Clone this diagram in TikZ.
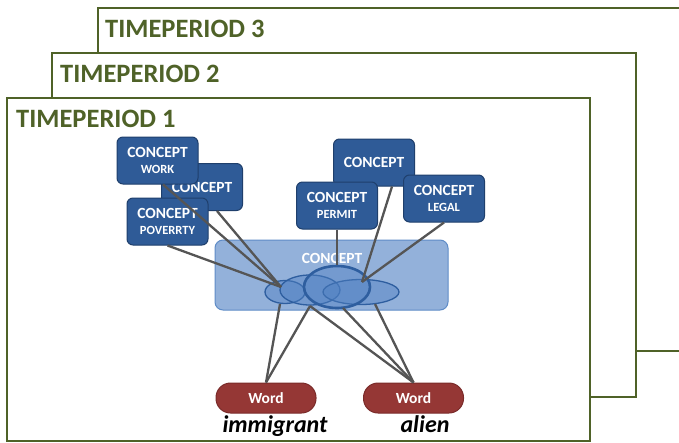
\documentclass[tikz,border=0pt]{standalone}
\usepackage{fontspec}
\setmainfont{Carlito}
\usetikzlibrary{shapes.geometric}

\definecolor{frameolive}{HTML}{4F6228}
\definecolor{conceptfill}{HTML}{2F5B97}
\definecolor{conceptedge}{HTML}{1F3F6C}
\definecolor{groupfill}{HTML}{93B1DA}
\definecolor{groupedge}{HTML}{5F8CC7}
\definecolor{sensefill}{HTML}{4F80C2}
\definecolor{senseedge}{HTML}{2E5E9F}
\definecolor{wordfill}{HTML}{953735}
\definecolor{wordedge}{HTML}{7A2B2A}
\definecolor{linkgray}{HTML}{555555}

\newcommand{\sublabel}[1]{{\fontsize{12.5}{13}\selectfont #1}}

\begin{document}
\begin{tikzpicture}[x=1pt,y=-1pt,
  frame/.style={draw=frameolive,line width=2.5pt,fill=white},
  frametitle/.style={anchor=base west,inner sep=0,text=frameolive,
    font=\bfseries\fontsize{26.5}{28}\selectfont},
  conceptbox/.style={rectangle,rounded corners=6pt,fill=conceptfill,
    draw=conceptedge,line width=1pt,minimum width=81pt,minimum height=47pt,
    inner sep=0,text=white,align=center,
    font=\bfseries\fontsize{15.5}{17}\selectfont},
  groupbox/.style={rectangle,rounded corners=8pt,fill=groupfill,
    draw=groupedge,line width=1pt},
  sense/.style={ellipse,inner sep=0,fill=sensefill,fill opacity=0.45,
    draw=senseedge,draw opacity=1,line width=1.3pt},
  wordbox/.style={rectangle,rounded corners=14.5pt,fill=wordfill,
    draw=wordedge,line width=1pt,minimum width=100pt,minimum height=30pt,
    inner sep=0,text=white,font=\bfseries\fontsize{15.5}{17}\selectfont},
  wordlabel/.style={anchor=base,inner sep=0,
    font=\bfseries\itshape\fontsize{24}{26}\selectfont},
  link/.style={draw=linkgray,line width=2.3pt}]

\clip (0,0) rectangle (679,442);
\useasboundingbox (0,0) rectangle (679,442);

% stacked time-period frames, back to front
\draw[frame] (98,8) rectangle (700,351);
\node[frametitle] (tp3) at (105,37) {TIMEPERIOD 3};
\draw[frame] (52,53) rectangle (636,397);
\node[frametitle] (tp2) at (60,82) {TIMEPERIOD 2};
\draw[frame] (7,98) rectangle (590,441);
\node[frametitle] (tp1) at (16,127) {TIMEPERIOD 1};

% concept boxes
\node[conceptbox] (mid)    at (202,187)   {CONCEPT};
\node[conceptbox] (work)   at (157.5,160.5) {CONCEPT\\[-1pt]\sublabel{WORK}};
\node[conceptbox] (pov)    at (167.5,221.5) {CONCEPT\\[-1pt]\sublabel{POVERRTY}};
\node[conceptbox] (conc)   at (374,162.5) {CONCEPT};
\node[conceptbox] (permit) at (337,205.5) {CONCEPT\\[-1pt]\sublabel{PERMIT}};
\node[conceptbox] (legal)  at (444,198.5) {CONCEPT\\[-1pt]\sublabel{LEGAL}};

% central concept with its overlapping senses
\draw[groupbox] (215,240) rectangle (448,310);
\node[text=white,font=\bfseries\fontsize{15.5}{17}\selectfont] (group) at (332,258) {CONCEPT};
\node[sense,minimum width=40pt,minimum height=23pt] (e1) at (285,292) {};
\node[sense,minimum width=60pt,minimum height=30pt] (e2) at (310,290) {};
\node[sense,minimum width=76pt,minimum height=25pt] (e4) at (361,292) {};
\node[sense,minimum width=66pt,minimum height=42pt,line width=2.6pt] (e3) at (337,287) {};

% word nodes
\node[wordbox] (word1) at (266,398) {Word};
\node[wordbox] (word2) at (413.5,398) {Word};
\node[wordlabel] (lab1) at (275,432) {immigrant};
\node[wordlabel] (lab2) at (425,432) {alien};

% meeting points on the senses
\coordinate (hubL) at (281,287);
\coordinate (hubR) at (362,282);
\coordinate (b1) at (280,304);
\coordinate (b2) at (310,306);
\coordinate (b3) at (343,308);
\coordinate (b4) at (375,304);

% links from concepts to senses
\draw[link] ([xshift=5.5pt]work.south) -- (hubL);
\draw[link] ([xshift=15pt]mid.south) -- (hubL);
\draw[link] (pov.south) -- (hubL);
\draw[link] (permit.south) -- (e3.north);
\draw[link] ([xshift=18pt]conc.south) -- (hubR);
\draw[link] (legal.south) -- (hubR);

% links from senses to words
\draw[link] (b1) -- (word1.north);
\draw[link] (b2) -- (word1.north);
\draw[link] (b2) -- (word2.north);
\draw[link] (b3) -- (word2.north);
\draw[link] (b4) -- (word2.north);
\end{tikzpicture}
\end{document}
